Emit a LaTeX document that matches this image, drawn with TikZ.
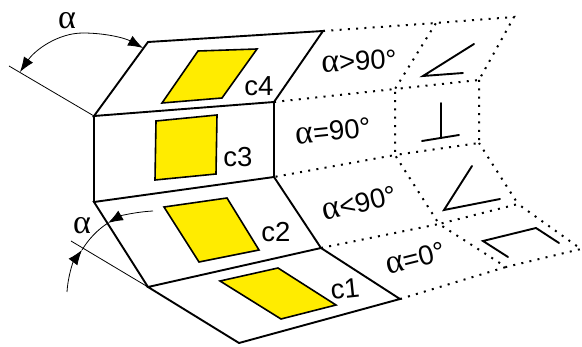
\documentclass[tikz,border=0pt]{standalone}
\usepackage{fontspec}
\setmainfont{Liberation Sans}
\newfontfamily\alphafont{Liberation Serif}
\usetikzlibrary{arrows.meta}
\newcommand{\alp}{{\fontsize{34}{34}\alphafont α}}
\tikzset{
  edgeline/.style={line width=1.9pt,line join=miter,line cap=round},
  panel/.style={draw=black,fill=yellowfill,line width=1.6pt,line join=miter},
  dots/.style={line width=2pt,dash pattern=on 2pt off 6.3pt,line cap=butt},
  thin line/.style={line width=0.8pt},
  anglearc/.style={line width=0.8pt},
  headtip/.style={-{Latex[length=15pt,width=11pt]}},
  lab/.style={inner sep=0pt,font=\fontsize{27.5}{27.5}\selectfont}
}
\definecolor{yellowfill}{RGB}{255,236,0}
\begin{document}
\begin{tikzpicture}[x=1pt,y=-1pt]
\useasboundingbox (0,0) rectangle (582,347);
% fold corners
\coordinate (a1) at (148,42);  \coordinate (a2) at (323,31);
\coordinate (b1) at (94,116);  \coordinate (b2) at (274,102);
\coordinate (c1) at (94,202);  \coordinate (c2) at (274,177);
\coordinate (d1) at (148,287); \coordinate (d2) at (321,248);
\coordinate (e1) at (239,343); \coordinate (e2) at (400,299);
% dotted extension corners
\coordinate (f1) at (436,23);  \coordinate (f2) at (514,17);
\coordinate (g1) at (395,89);  \coordinate (g2) at (479,80);
\coordinate (h1) at (395,155); \coordinate (h2) at (479,143);
\coordinate (i1) at (439,224); \coordinate (i2) at (518,204);
\coordinate (j1) at (506,267); \coordinate (j2) at (581,249);
% panels
\draw[panel] (198,51) -- (257,49) -- (222,98) -- (162,103) -- cycle;
\draw[panel] (156,121) -- (217,115) -- (216,174) -- (155,180) -- cycle;
\draw[panel] (164,207) -- (227,198) -- (259,250) -- (199,262) -- cycle;
\draw[panel] (220,281) -- (278,268) -- (336,305) -- (281,319) -- cycle;
% folded sheet
\draw[edgeline] (b2) -- (a2) -- (a1) -- (b1) -- (b2) -- (c2) -- (d2) -- (e2) -- (e1) -- (d1) -- (d2);
\draw[edgeline] (d1) -- (c1) -- (c2);
\draw[edgeline] (c1) -- (b1);
% dotted
\draw[dots] (a2) -- (f1) -- (f2) -- (g2) -- (g1) -- (f1);
\draw[dots] (b2) -- (g1) -- (h1) -- (c2);
\draw[dots] (g2) -- (h2) -- (h1) -- (i1) -- (i2) -- (h2);
\draw[dots] (d2) -- (i1) -- (j1) -- (j2) -- (i2);
\draw[dots] (e2) -- (j1);
% angle profiles
\coordinate (p1) at (474,44); \coordinate (p2) at (423,76); \coordinate (p3) at (463,73);
\draw[edgeline] (p1) -- (p2) -- (p3);
\coordinate (q1) at (441,103); \coordinate (q2) at (441,137); \coordinate (q3) at (422,141); \coordinate (q4) at (459,135);
\draw[edgeline] (q1) -- (q2); \draw[edgeline] (q3) -- (q4);
\coordinate (r1) at (472,166); \coordinate (r2) at (444,210); \coordinate (r3) at (500,199);
\draw[edgeline] (r1) -- (r2) -- (r3);
\coordinate (s1) at (508,257); \coordinate (s2) at (483,241); \coordinate (s3) at (536,228); \coordinate (s4) at (559,243);
\draw[edgeline] (s1) -- (s2) -- (s3) -- (s4);
% angle construction
\coordinate (t1) at (9,66);
\coordinate (t2) at (71,241);
\draw[thin line] (t1) -- (b1);
\draw[thin line] (t2) -- (d1);
\coordinate (u0) at (83,33); \coordinate (u1) at (20,72); \coordinate (u2) at (143,48);
\draw[anglearc,headtip] (u0) .. controls (58,33) and (35,50) .. (u1);
\draw[anglearc,headtip] (u0) .. controls (105,33) and (125,38) .. (u2);
\coordinate (v1) at (67,292); \coordinate (v2) at (82,250); \coordinate (v3) at (153,211); \coordinate (v4) at (108,223);
\draw[anglearc,headtip] (v1) .. controls (68,276) and (73,262) .. (v2);
\draw[anglearc] (v2) .. controls (88,240) and (97,230) .. (v4);
\draw[anglearc,headtip] (v3) .. controls (135,212) and (120,216) .. (v4);
% labels
\node[lab] (la1) at (67,21) {\alp};
\node[lab] (la2) at (82,226) {\alp};
\node[lab] (l4) at (259,86) {c4};
\node[lab] (l3) at (238,157) {c3};
\node[lab] (l2) at (276,232) {c2};
\node[lab,rotate=6] (l1) at (345,289) {c1};
\node[lab,rotate=3] (m1) at (359,61) {\alp>90°};
\node[lab,rotate=6] (m2) at (333,131) {\alp=90°};
\node[lab,rotate=13] (m3) at (359,203) {\alp<90°};
\node[lab,rotate=14] (m4) at (415,258) {\alp=0°};
\end{tikzpicture}
\end{document}
